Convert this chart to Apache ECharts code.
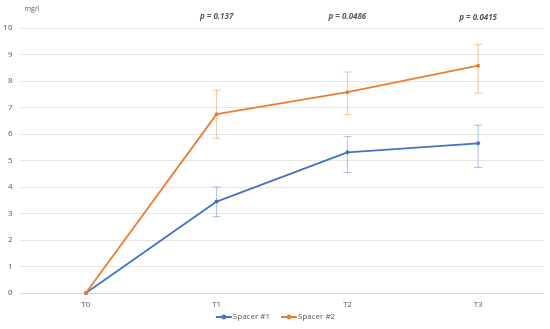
<!DOCTYPE html>
<html><head><meta charset="utf-8">
<script src="https://cdn.jsdelivr.net/npm/echarts@6/dist/echarts.min.js"></script>
<style>html,body{margin:0;padding:0;background:#fff}#c{width:550px;height:329px}</style>
</head><body><div id="c"></div>
<script>
const categories = ['T0','T1','T2','T3'];
const spacer1 = [0, 3.45, 5.31, 5.65];
const spacer1Low = [0, 2.88, 4.55, 4.74];
const spacer1High = [0, 4.0, 5.91, 6.33];
const spacer2 = [0, 6.75, 7.58, 8.58];
const spacer2Low = [0, 5.84, 6.73, 7.54];
const spacer2High = [0, 7.66, 8.34, 9.38];
const pLabels = ['', 'p = 0.137', 'p = 0.0486', 'p = 0.0415'];
const yTicks = [0,1,2,3,4,5,6,7,8,9,10];

const blue = '#4472C4', orange = '#ED7D31';
function errData(low, high){ return categories.map((c,i)=>[i, low[i], high[i]]).filter(d=>d[1]!==d[2]); }
function errSeries(name, low, high, color){
  return {
    type:'custom', name: name+'_err', silent:true, z:1,
    data: errData(low, high),
    renderItem: function(params, api){
      const p1 = api.coord([api.value(0), api.value(1)]);
      const p2 = api.coord([api.value(0), api.value(2)]);
      const w = 4;
      const st = {stroke: color, lineWidth: 1, opacity: 0.45};
      return {type:'group', children:[
        {type:'line', shape:{x1:p1[0],y1:p1[1],x2:p2[0],y2:p2[1]}, style:st},
        {type:'line', shape:{x1:p1[0]-w,y1:p1[1],x2:p1[0]+w,y2:p1[1]}, style:st},
        {type:'line', shape:{x1:p2[0]-w,y1:p2[1],x2:p2[0]+w,y2:p2[1]}, style:st}
      ]};
    }
  };
}
const chart = echarts.init(document.getElementById('c'));
chart.setOption({
  animation:false,
  textStyle:{fontFamily:'Open Sans'},
  grid:{left:20.5, right:6.5, top:28, bottom:36},
  legend:{bottom:3, left:'center', itemWidth:16, itemHeight:6, itemGap:10,
    data:['Spacer #1','Spacer #2'],
    textStyle:{fontSize:8, color:'#595959', fontFamily:'Open Sans', padding:[0,0,0,-4]}},
  xAxis:{type:'category', data:categories, boundaryGap:true,
    axisLine:{lineStyle:{color:'#D9D9D9'}}, axisTick:{show:false},
    axisLabel:{fontSize:8, color:'#595959', margin:8}},
  yAxis:{type:'value', min:0, max:10, interval:1, name:'mg/l',
    nameLocation:'end', nameGap:16, nameTextStyle:{fontSize:7, color:'#595959', align:'left', padding:[0,0,0,4]},
    axisLine:{show:false}, axisTick:{show:false},
    axisLabel:{fontSize:8, color:'#595959', margin:8},
    splitLine:{lineStyle:{color:'#E6E6E6'}}},
  series:[
    errSeries('Spacer #1', spacer1Low, spacer1High, blue),
    errSeries('Spacer #2', spacer2Low, spacer2High, orange),
    {name:'Spacer #1', type:'line', data:spacer1, symbol:'circle', symbolSize:4,
      lineStyle:{color:blue, width:1.8}, itemStyle:{color:blue}, z:3},
    {name:'Spacer #2', type:'line', data:spacer2, symbol:'circle', symbolSize:4,
      lineStyle:{color:orange, width:1.8}, itemStyle:{color:orange}, z:4},
    {type:'custom', silent:true, z:5,
      data: pLabels.map((t,i)=>[i,10,t]).filter(d=>d[2]),
      renderItem:function(params, api){
        const p = api.coord([api.value(0), 10]);
        const i = api.value(0);
        return {type:'text', x:p[0], y:p[1]-11 + (i===3?1:0), style:{text: pLabels[i], fontSize:8,
          fontStyle:'italic', fontWeight:'bold', fill:'#595959', align:'center', verticalAlign:'middle', fontFamily:'Open Sans'}};
      }}
  ]
});
</script></body></html>
